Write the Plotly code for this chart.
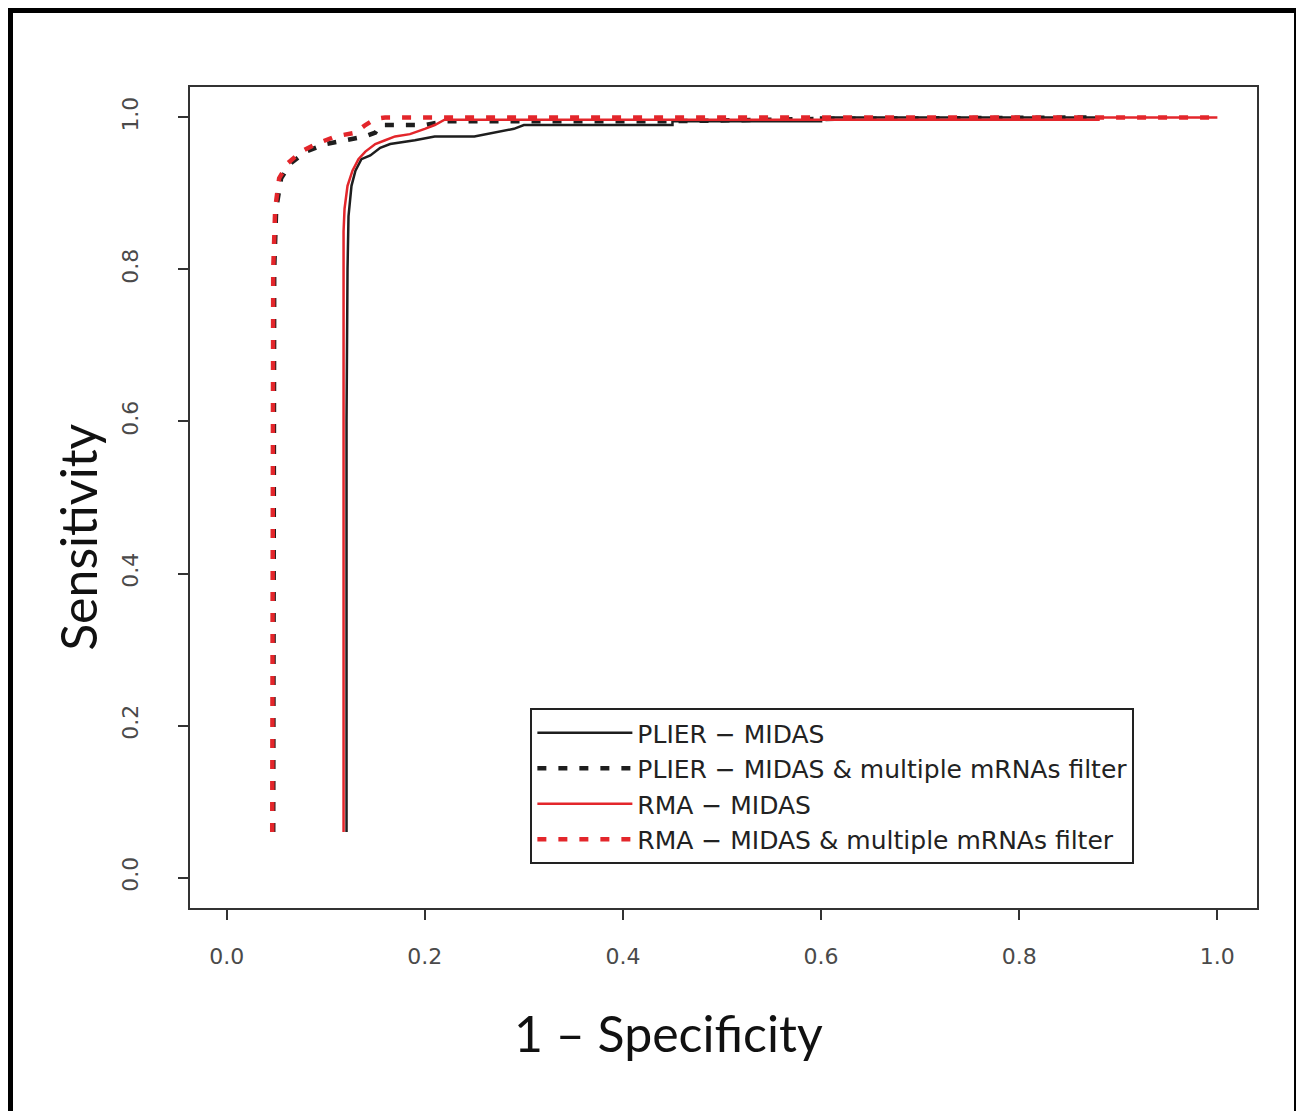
import plotly.graph_objects as go

# ---- data ----
plier_x = [0.121, 0.121, 0.122, 0.123, 0.126, 0.130, 0.136, 0.145, 0.155, 0.165, 0.190, 0.210, 0.250, 0.270, 0.290, 0.300, 0.450, 0.450, 0.600, 0.600, 0.880]
plier_y = [0.060, 0.600, 0.800, 0.870, 0.910, 0.930, 0.945, 0.950, 0.960, 0.965, 0.970, 0.975, 0.975, 0.980, 0.985, 0.990, 0.990, 0.995, 0.995, 1.000, 1.000]

plier_f_x = [0.047, 0.047, 0.048, 0.050, 0.055, 0.065, 0.080, 0.100, 0.120, 0.140, 0.150, 0.155, 0.200, 0.220, 0.450, 0.600, 0.880]
plier_f_y = [0.060, 0.600, 0.800, 0.880, 0.920, 0.940, 0.955, 0.965, 0.970, 0.975, 0.980, 0.990, 0.990, 0.995, 0.995, 0.998, 1.000]

rma_x = [0.118, 0.118, 0.119, 0.122, 0.127, 0.133, 0.140, 0.150, 0.160, 0.170, 0.185, 0.190, 0.200, 0.210, 0.220, 0.880, 0.880, 1.000]
rma_y = [0.060, 0.850, 0.880, 0.910, 0.930, 0.945, 0.955, 0.965, 0.970, 0.975, 0.978, 0.980, 0.985, 0.990, 0.997, 0.997, 1.000, 1.000]

rma_f_x = [0.046, 0.046, 0.047, 0.049, 0.053, 0.062, 0.075, 0.090, 0.110, 0.130, 0.140, 0.150, 0.160, 1.000]
rma_f_y = [0.060, 0.600, 0.800, 0.880, 0.920, 0.940, 0.955, 0.965, 0.975, 0.980, 0.990, 0.998, 1.000, 1.000]

x_ticks = [0.0, 0.2, 0.4, 0.6, 0.8, 1.0]
y_ticks = [0.0, 0.2, 0.4, 0.6, 0.8, 1.0]
tick_text = ["0.0", "0.2", "0.4", "0.6", "0.8", "1.0"]

BLACK = "#1e1e1e"
RED = "#e3262b"
DASH = "9px,12px"

fig = go.Figure()
fig.add_trace(go.Scatter(x=plier_x, y=plier_y, mode="lines", name="PLIER \u2212 MIDAS",
                         line=dict(color=BLACK, width=2.5)))
fig.add_trace(go.Scatter(x=plier_f_x, y=plier_f_y, mode="lines", name="PLIER \u2212 MIDAS & multiple mRNAs filter",
                         line=dict(color=BLACK, width=4.5, dash=DASH)))
fig.add_trace(go.Scatter(x=rma_x, y=rma_y, mode="lines", name="RMA \u2212 MIDAS",
                         line=dict(color=RED, width=2.5)))
fig.add_trace(go.Scatter(x=rma_f_x, y=rma_f_y, mode="lines", name="RMA \u2212 MIDAS & multiple mRNAs filter",
                         line=dict(color=RED, width=4.5, dash=DASH)))

axis_common = dict(
    showline=True, linecolor="#333333", linewidth=2, mirror=True,
    ticks="outside", ticklen=10, tickwidth=2, tickcolor="#333333",
    showgrid=False, zeroline=False,
    tickfont=dict(family="DejaVu Sans", size=22, color="#4a4a4a"),
)

fig.update_layout(
    width=1304, height=1111,
    margin=dict(l=182, r=55, t=79, b=211),
    paper_bgcolor="white", plot_bgcolor="white",
    showlegend=True,
    legend=dict(
        x=0.319, y=0.2436, xanchor="left", yanchor="top",
        bordercolor="#222222", borderwidth=2, bgcolor="white",
        font=dict(family="DejaVu Sans", size=25, color="#222222"),
        tracegroupgap=0, itemwidth=95,
    ),
    xaxis=dict(range=[-0.037, 1.04], tickvals=x_ticks, ticktext=tick_text,
               ticklabelstandoff=18, **axis_common),
    yaxis=dict(range=[-0.04, 1.04], tickvals=y_ticks, ticktext=tick_text,
               tickangle=-90, ticklabelstandoff=31, **axis_common),
    annotations=[
        dict(text="Sensitivity", xref="paper", yref="paper", x=-0.105, y=0.452,
             xanchor="center", yanchor="middle", textangle=-90, showarrow=False,
             font=dict(family="Lato, Open Sans", size=50, color="#111111")),
        dict(text="1 \u2013 Specificity", xref="paper", yref="paper", x=0.448, y=-0.152,
             xanchor="center", yanchor="middle", showarrow=False,
             font=dict(family="Lato, Open Sans", size=50, color="#111111")),
    ],
    shapes=[dict(type="rect", xref="paper", yref="paper",
                 x0=-0.1687, x1=1.0375, y0=-0.30, y1=1.0938,
                 line=dict(color="black", width=6), fillcolor="rgba(0,0,0,0)", layer="above")],
)

fig.write_html("out.html")
